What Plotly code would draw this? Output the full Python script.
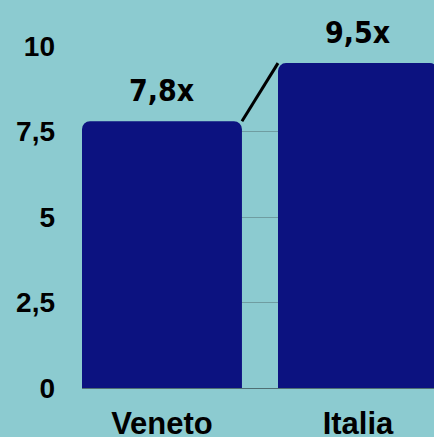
import plotly.graph_objects as go

categories = ["Veneto", "Italia"]
values = [7.8, 9.5]
labels = ["7,8x", "9,5x"]
tick_vals = [0, 2.5, 5, 7.5, 10]
tick_text = ["0", "2,5", "5", "7,5", "10"]

BG = "#8ccbd0"
BAR = "#0c1280"
bar_w = 0.816
half = bar_w / 2
xpos = list(range(len(categories)))

fig = go.Figure()
fig.add_trace(go.Bar(
    x=xpos, y=values, width=bar_w,
    marker=dict(color=BAR, line=dict(width=0), cornerradius=8),
    hoverinfo="skip",
))
# connector between top corners
fig.add_trace(go.Scatter(
    x=[xpos[0] + half, xpos[1] - half], y=[values[0], values[1]],
    mode="lines", line=dict(color="black", width=3), hoverinfo="skip",
))
for xi, v, t in zip(xpos, values, labels):
    fig.add_annotation(
        x=xi, y=v, text=t, showarrow=False, yanchor="bottom", yshift=11,
        font=dict(family="DejaVu Sans Condensed, Liberation Sans Narrow, Arial Narrow, sans-serif",
                  size=30, color="black", weight="bold"),
    )

fig.update_layout(
    width=434, height=437,
    margin=dict(l=82, r=0, t=46, b=49),
    paper_bgcolor=BG, plot_bgcolor=BG,
    showlegend=False,
    font=dict(family="Liberation Sans, Arial, sans-serif", color="black"),
)
fig.update_xaxes(
    range=[-half, -half + 352 / 196], tickvals=xpos, ticktext=categories,
    showgrid=False, zeroline=False, showline=False, automargin=False,
    tickfont=dict(size=31, weight="bold"), ticklabelstandoff=14,
)
fig.update_yaxes(
    range=[0, 10], tickvals=tick_vals, ticktext=tick_text,
    showgrid=True, gridcolor="#6f9da1", gridwidth=1,
    zeroline=True, zerolinecolor="#4f6f73", zerolinewidth=1, automargin=False,
    tickfont=dict(size=28, weight="bold"), ticklabelstandoff=26,
)
fig.write_html(
    "out.html",
    config={"displayModeBar": False},
    post_script="document.body.style.margin='0';document.body.style.background='%s';" % BG,
)
